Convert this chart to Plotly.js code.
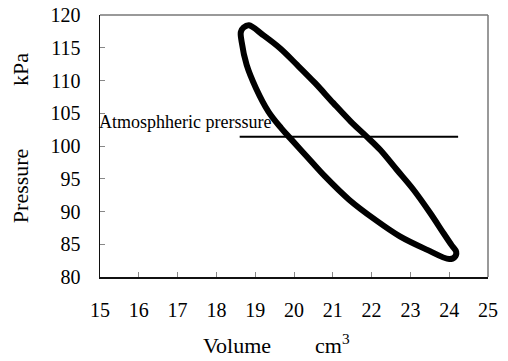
<!DOCTYPE html>
<html>
<head>
<meta charset="utf-8">
<script src="https://cdn.plot.ly/plotly-3.0.1.min.js"></script>
<style>
html,body{margin:0;padding:0;background:#fff;}
#chart{width:508px;height:361px;}
#chart text{font-family:"Liberation Serif","Times New Roman",serif !important;}
</style>
</head>
<body>
<div id="chart"></div>
<script>
// Pressure-volume loop, traced clockwise from the top-left apex
const loopVolume = [18.84,19.20,19.64,20.08,20.54,21.01,21.47,21.88,22.22,22.65,23.08,23.51,23.85,24.07,24.18,24.14,24.00,
  23.42,22.73,22.09,21.42,20.80,20.33,19.90,19.67,19.34,19.02,18.78,18.65,18.63,18.70,18.84];
const loopPressure = [118.43,116.95,114.92,112.38,109.63,106.58,103.69,101.40,99.42,96.37,93.32,89.77,86.72,84.79,83.87,83.03,82.73,
  84.18,86.20,88.75,91.80,95.35,98.40,101.20,102.73,105.26,108.83,112.38,115.93,117.41,118.09,118.43];
const atmVolume = [18.6, 24.23];
const atmPressure = [101.4, 101.4];
const atmLabel = "Atmosphheric prerssure";
const xTicks = [15,16,17,18,19,20,21,22,23,24,25];
const yTicks = [80,85,90,95,100,105,110,115,120];

const serif = "Liberation Serif";
const traces = [
  {x: atmVolume, y: atmPressure, mode: 'lines', line: {color: '#000', width: 2}, hoverinfo: 'skip'},
  {x: loopVolume, y: loopPressure, mode: 'lines', line: {color: '#000', width: 6, shape: 'spline', smoothing: 1}, hoverinfo: 'skip'}
];
const layout = {
  width: 508, height: 361,
  margin: {l: 100, r: 20, t: 15, b: 84},
  paper_bgcolor: '#fff', plot_bgcolor: '#fff',
  showlegend: false,
  font: {family: serif, color: '#000'},
  xaxis: {
    range: [15, 25], tickvals: xTicks, ticktext: xTicks.map(String),
    ticks: 'inside', ticklen: 5, tickcolor: '#888', tickwidth: 1,
    showgrid: false, zeroline: false,
    showline: true, linecolor: '#111', linewidth: 1.5,
    tickfont: {family: serif, size: 20, color: '#000'},
    ticklabelstandoff: 14
  },
  yaxis: {
    range: [80, 120], tickvals: yTicks, ticktext: yTicks.map(String),
    ticks: 'inside', ticklen: 5, tickcolor: '#888', tickwidth: 1,
    showgrid: false, zeroline: false,
    showline: true, linecolor: '#111', linewidth: 1.5,
    tickfont: {family: serif, size: 20, color: '#000'},
    ticklabelstandoff: 14
  },
  shapes: [
    {type: 'line', xref: 'paper', yref: 'paper', x0: 0, x1: 1, y0: 1, y1: 1, line: {color: '#777', width: 1.5}},
    {type: 'line', xref: 'paper', yref: 'paper', x0: 1, x1: 1, y0: 0, y1: 1, line: {color: '#777', width: 1.5}}
  ],
  annotations: [
    {x: -0.0077, y: 0.591, xref: 'paper', yref: 'paper', text: atmLabel, showarrow: false, xanchor: 'left', yanchor: 'middle',
     font: {family: serif, size: 18, color: '#000'}},
    {x: 0.353, y: -0.262, xref: 'paper', yref: 'paper', text: 'Volume', showarrow: false, xanchor: 'center', yanchor: 'middle',
     font: {family: serif, size: 22, color: '#000'}},
    {x: 0.598, y: -0.256, xref: 'paper', yref: 'paper', text: 'cm<sup>3</sup>', showarrow: false, xanchor: 'center', yanchor: 'middle',
     font: {family: serif, size: 22, color: '#000'}},
    {x: -0.206, y: 0.347, xref: 'paper', yref: 'paper', text: 'Pressure', showarrow: false, textangle: -90, xanchor: 'center', yanchor: 'middle',
     font: {family: serif, size: 22, color: '#000'}},
    {x: -0.206, y: 0.79, xref: 'paper', yref: 'paper', text: 'kPa', showarrow: false, textangle: -90, xanchor: 'center', yanchor: 'middle',
     font: {family: serif, size: 22, color: '#000'}}
  ]
};
Plotly.newPlot('chart', traces, layout, {displayModeBar: false, staticPlot: true});
</script>
</body>
</html>
